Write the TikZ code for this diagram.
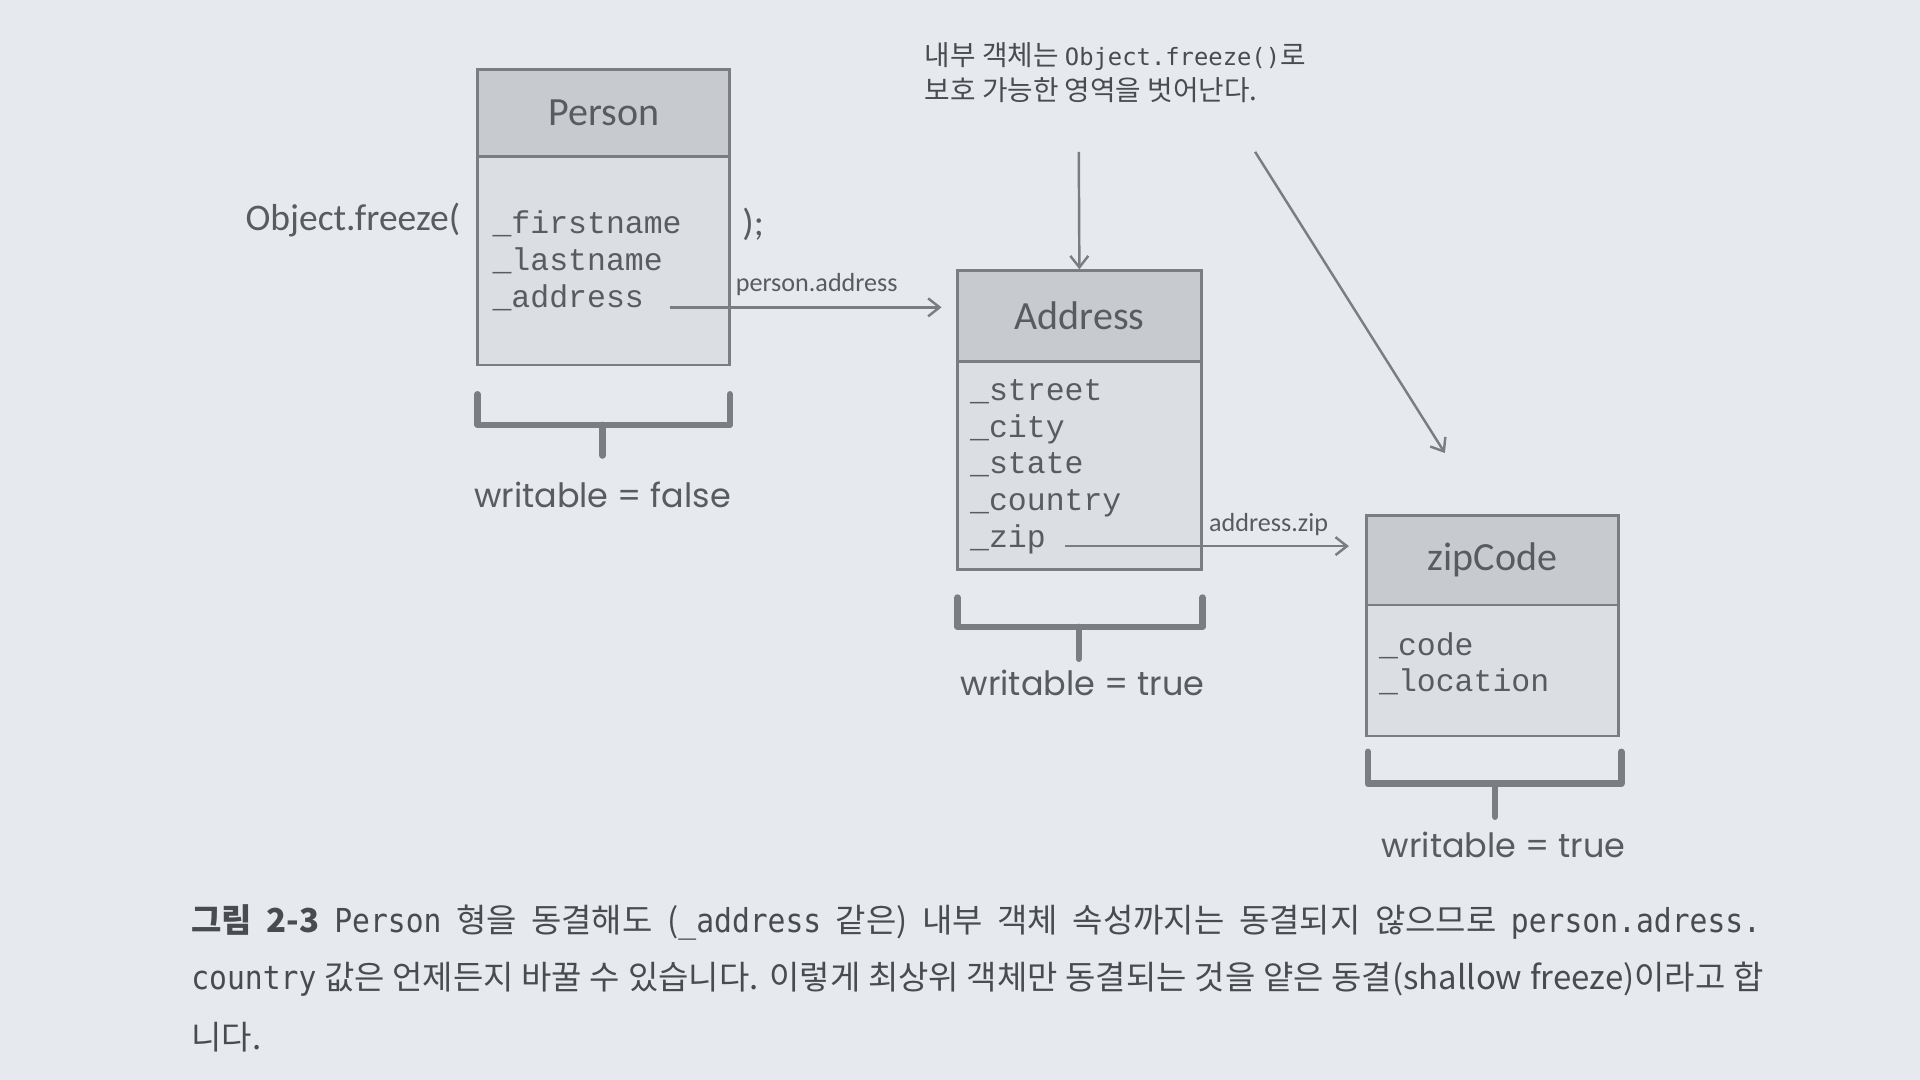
\documentclass[tikz,border=0pt]{standalone}
\usepackage{fontspec}
\usetikzlibrary{arrows.meta}
\setmainfont{Carlito}
\newfontfamily\korfont{Noto Sans CJK KR}
\newfontfamily\fieldfont{Liberation Mono}
\newfontfamily\notemono{DejaVu Sans Mono}
\newfontfamily\capmono{DejaVu Sans Mono}[FakeStretch=0.9]
\newfontfamily\handfont{Poppins}
\definecolor{bgcol}{RGB}{230,234,239}
\definecolor{headfill}{RGB}{199,203,208}
\definecolor{bodyfill}{RGB}{219,223,228}
\definecolor{linecol}{RGB}{122,126,131}
\definecolor{txtcol}{RGB}{88,92,97}
\definecolor{captxt}{RGB}{72,75,80}
\tikzset{
  headbox/.style={draw=linecol, fill=headfill, line width=1.6pt, inner sep=0pt,
    text=txtcol, font=\fontsize{24.5}{28}\selectfont},
  bodybox/.style={draw=linecol, fill=bodyfill, line width=1.6pt, inner sep=0pt},
  fields/.style={anchor=west, align=left, inner sep=0pt, text=txtcol,
    font=\fieldfont\fontsize{19.3}{22.5}\selectfont},
  reflabel/.style={inner sep=0pt, text=txtcol, font=\fontsize{16}{18}\selectfont},
  arr/.style={-{Straight Barb[length=7pt,width=11pt]}, draw=linecol, line width=1.5pt},
  brace/.style={draw=linecol, line width=4pt, line join=round, line cap=round},
  writable/.style={inner sep=0pt, text=txtcol, font=\handfont\fontsize{20.5}{24}\selectfont},
  capline/.style={anchor=west, inner sep=0pt, text=captxt, font=\korfont\fontsize{20.2}{24}\selectfont}
}
\begin{document}
\begin{tikzpicture}[x=0.75pt,y=0.75pt,yscale=-1,xscale=1]
%set diagram left start at 0, and has height of 882
\fill[bgcol] (0,0) rectangle (1568,882);

%Shape: Person box
\node [headbox, minimum width=154.5pt, minimum height=53.25pt] (personHead) at (493,92.5) {Person};
\node [bodybox, minimum width=154.5pt, minimum height=127.5pt] (personBody) at (493,213) {};
% Text Node
\node [fields] (personFields) at (402,213) {\_firstname\\\_lastname\\\_address};
% Text Node
\node [anchor=east, inner sep=0pt, text=txtcol, font=\fontsize{23}{26}\selectfont] (freezeOpen) at (376,180) {Object.freeze(};
% Text Node
\node [anchor=west, inner sep=0pt, text=txtcol, font=\fontsize{23}{26}\selectfont] (freezeClose) at (606,183) {);};

%Shape: Address box
\node [headbox, minimum width=149.25pt, minimum height=55.5pt] (addrHead) at (881.5,258) {Address};
\node [bodybox, minimum width=149.25pt, minimum height=127.5pt] (addrBody) at (881.5,380) {};
% Text Node
\node [fields] (addrFields) at (792,381) {\_street\\\_city\\\_state\\\_country\\\_zip};

%Shape: zipCode box
\node [headbox, minimum width=154.5pt, minimum height=54.75pt] (zipHead) at (1219,457.5) {zipCode};
\node [bodybox, minimum width=154.5pt, minimum height=80.25pt] (zipBody) at (1219,547.5) {};
% Text Node
\node [fields] (zipFields) at (1126,542) {\_code\\\_location};

%Reference arrows
\coordinate (addrOut) at (547,251);
\coordinate (zipOut) at (870,446);
\draw [arr, shorten >=9pt] (addrOut) -- (addrOut -| addrHead.west);
\node [reflabel] (addrLabel) at (667,232) {person.address};
\draw [arr, shorten >=10pt] (zipOut) -- (zipOut -| zipHead.west);
\node [reflabel] (zipLabel) at (1036,428) {address.zip};

%Note and its arrows
\node [anchor=west, align=left, inner sep=0pt, text=captxt, font=\korfont\fontsize{17}{21.75}\selectfont] (note) at (755,59.5)
  {내부 객체는 {\notemono\fontsize{14.6}{18}\selectfont Object.freeze()}로\\보호 가능한 영역을 벗어난다.};
\coordinate (noteStart) at (881,124);
\coordinate (noteDiag) at (1025,124);
\coordinate (noteEnd) at (1180,370);
\draw [arr] (noteStart) -- (addrHead.north);
\draw [arr] (noteDiag) -- (noteEnd);

%Shape: braces
\draw [brace] (390,322) -- (390,347) -- (596,347) -- (596,322);
\draw [brace] (492,347) -- (492,372);
\draw [brace] (782,488) -- (782,512) -- (982,512) -- (982,488);
\draw [brace] (881,512) -- (881,538);
\draw [brace] (1117,614) -- (1117,640) -- (1324,640) -- (1324,614);
\draw [brace] (1221,640) -- (1221,667);

% Text Node
\node [writable] (wFalse) at (492,404) {writable = false};
\node [writable] (wTrueAddr) at (884,558) {writable = true};
\node [writable] (wTrueZip) at (1228,690) {writable = true};

%Caption
\node [capline] (cap1) at (156,753) {\makebox[961.5pt][s]{{\bfseries 그림 2-3} {\capmono Person} 형을 동결해도 ({\capmono \_address} 같은) 내부 객체 속성까지는 동결되지 않으므로 {\capmono person.adress.}}};
\node [capline] (cap2) at (156,800) {\makebox[963pt][s]{{\capmono country} 값은 언제든지 바꿀 수 있습니다. 이렇게 최상위 객체만 동결되는 것을 얕은 동결(shallow freeze)이라고 합}};
\node [capline] (cap3) at (156,847) {니다.};

\end{tikzpicture}
\end{document}
